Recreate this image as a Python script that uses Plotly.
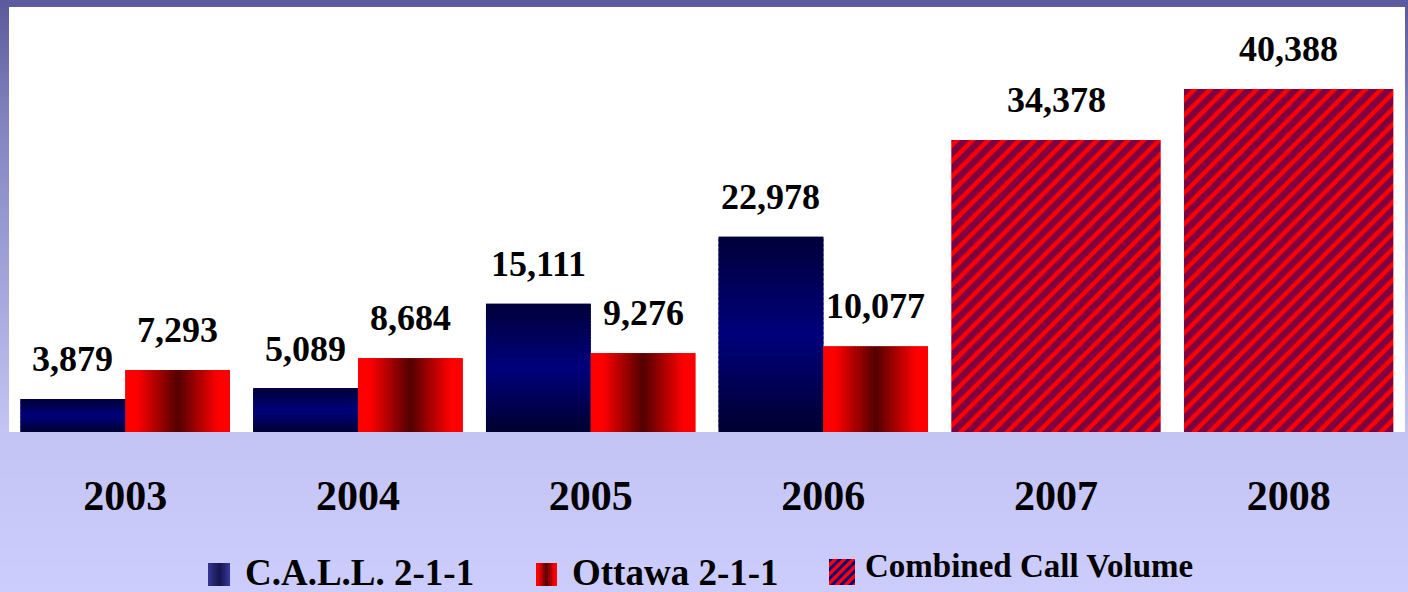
import plotly.graph_objects as go

# ---------------- data ----------------
years = ["2003", "2004", "2005", "2006", "2007", "2008"]
call_years = ["2003", "2004", "2005", "2006"]
call_211 = [3879, 5089, 15111, 22978]
ottawa_years = ["2003", "2004", "2005", "2006"]
ottawa_211 = [7293, 8684, 9276, 10077]
combined_years = ["2007", "2008"]
combined_volume = [34378, 40388]

series_names = ["C.A.L.L. 2-1-1", "Ottawa 2-1-1", "Combined Call Volume"]

# ---------------- geometry / style ----------------
FIG_W, FIG_H = 1408, 592
M_L, M_R, M_T, M_B = 9, 3, 7, 160
PW = FIG_W - M_L - M_R
PH = FIG_H - M_T - M_B
BW = 0.45          # width of a single bar (category units)
FONT = "Liberation Serif"
NAVY = "#000080"
RED = "#ff0000"


def interp(stops, t):
    for (t0, c0), (t1, c1) in zip(stops[:-1], stops[1:]):
        if t <= t1:
            f = 0 if t1 == t0 else (t - t0) / (t1 - t0)
            return tuple(int(round(a + (b - a) * f)) for a, b in zip(c0, c1))
    return stops[-1][1]


def rgb(c):
    return "rgb(%d,%d,%d)" % c


call_stops = [(0.0, (0, 0, 48)), (0.5, (0, 0, 124)), (1.0, (0, 0, 58))]
ott_stops = [(0.0, (255, 0, 0)), (0.12, (252, 0, 0)), (0.5, (82, 0, 0)),
             (0.88, (252, 0, 0)), (1.0, (255, 0, 0))]
call_sw_stops = [(0.0, (54, 54, 152)), (0.5, (20, 20, 74)), (1.0, (54, 54, 158))]
bg_stops = [(0, (90, 90, 156)), (120, (130, 130, 192)), (432, (196, 196, 244)),
            (592, (205, 205, 253))]

xi = {y: i for i, y in enumerate(years)}
call_x = [xi[y] - BW / 2 for y in call_years]
ott_x = [xi[y] + BW / 2 for y in ottawa_years]
comb_x = [xi[y] for y in combined_years]

fig = go.Figure()

# base bars
fig.add_trace(go.Bar(x=call_x, y=call_211, width=BW, name=series_names[0],
                     marker=dict(color="#20207a", line=dict(width=0)), hoverinfo="skip"))
fig.add_trace(go.Bar(x=ott_x, y=ottawa_211, width=BW, name=series_names[1],
                     marker=dict(color="#d00000", line=dict(width=0)), hoverinfo="skip"))
fig.add_trace(go.Bar(x=comb_x, y=combined_volume, width=2 * BW, name=series_names[2],
                     marker=dict(color=RED, line=dict(width=0),
                                 pattern=dict(shape="/", bgcolor=RED, fgcolor=NAVY,
                                              size=11, solidity=0.6)),
                     hoverinfo="skip"))

# vertical gradient on C.A.L.L. bars (stacked slices)
N = 40
for k in range(N):
    ext = 1.0 if k == N - 1 else 1.6
    fig.add_trace(go.Bar(
        x=call_x, base=[v * k / N for v in call_211],
        y=[v / N * ext for v in call_211], width=BW,
        marker=dict(color=rgb(interp(call_stops, (k + 0.5) / N)), line=dict(width=0)),
        showlegend=False, hoverinfo="skip"))

# horizontal gradient on Ottawa bars (side by side slices)
for k in range(N):
    ext = 1.0 if k == N - 1 else 1.6
    fig.add_trace(go.Bar(
        x=ott_x, y=ottawa_211, offset=-BW / 2 + k * BW / N, width=BW / N * ext,
        marker=dict(color=rgb(interp(ott_stops, (k + 0.5) / N)), line=dict(width=0)),
        showlegend=False, hoverinfo="skip"))

# value labels
annotations = []
for xs, vals in ((call_x, call_211), (ott_x, ottawa_211), (comb_x, combined_volume)):
    for x, v in zip(xs, vals):
        annotations.append(dict(x=x, y=v, xref="x", yref="y", text="<b>%s</b>" % f"{v:,}",
                                showarrow=False, yanchor="bottom", yshift=18,
                                font=dict(family=FONT, size=36, color="black")))


# pixel -> paper
def xp(px):
    return (px - M_L) / PW


def yp(py):
    return (M_T + PH - py) / PH


shapes = []
step = 4
for py in range(0, FIG_H, step):
    shapes.append(dict(type="rect", xref="paper", yref="paper", layer="below",
                       x0=xp(0), x1=xp(FIG_W), y0=yp(py + step), y1=yp(py),
                       fillcolor=rgb(interp(bg_stops, py + step / 2)), line=dict(width=0)))
shapes.append(dict(type="rect", xref="paper", yref="paper", layer="below",
                   x0=0, x1=1, y0=0, y1=1, fillcolor="white", line=dict(width=0)))


# ---------------- custom legend ----------------
def grad_swatch(x0, x1, y0, y1, stops, n=12):
    out = []
    w = (x1 - x0) / n
    for k in range(n):
        out.append(dict(type="rect", xref="paper", yref="paper", layer="above",
                        x0=xp(x0 + k * w), x1=xp(x0 + (k + 1) * w + (0.6 if k < n - 1 else 0)),
                        y0=yp(y1), y1=yp(y0),
                        fillcolor=rgb(interp(stops, (k + 0.5) / n)), line=dict(width=0)))
    return out


def clip(poly, inside, inter):
    out = []
    for i in range(len(poly)):
        a, b = poly[i - 1], poly[i]
        ia, ib = inside(a), inside(b)
        if ib:
            if not ia:
                out.append(inter(a, b))
            out.append(b)
        elif ia:
            out.append(inter(a, b))
    return out


def clip_box(poly, x0, x1, y0, y1):
    def ix(v):
        return lambda a, b: (v, a[1] + (b[1] - a[1]) * (v - a[0]) / (b[0] - a[0]))

    def iy(v):
        return lambda a, b: (a[0] + (b[0] - a[0]) * (v - a[1]) / (b[1] - a[1]), v)

    poly = clip(poly, lambda p: p[0] >= x0, ix(x0))
    poly = clip(poly, lambda p: p[0] <= x1, ix(x1))
    poly = clip(poly, lambda p: p[1] >= y0, iy(y0))
    poly = clip(poly, lambda p: p[1] <= y1, iy(y1))
    return poly


def stripe_swatch(x0, x1, y0, y1, period=9.0, frac=0.45):
    out = [dict(type="rect", xref="paper", yref="paper", layer="above",
                x0=xp(x0), x1=xp(x1), y0=yp(y1), y1=yp(y0), fillcolor=RED,
                line=dict(width=0))]
    s = max(x1 - x0, y1 - y0)
    c = -s
    while c < 2 * s:
        c0, c1 = c, c + period * frac
        par = [(c0 - s, -s), (c1 - s, -s), (c1 + 2 * s, 2 * s), (c0 + 2 * s, 2 * s)]
        poly = clip_box(par, 0, x1 - x0, 0, y1 - y0)
        if len(poly) >= 3:
            pts = [(xp(x0 + u), yp(y1 - v)) for u, v in poly]
            path = "M" + " L".join("%.6f,%.6f" % p for p in pts) + " Z"
            out.append(dict(type="path", xref="paper", yref="paper", layer="above",
                            path=path, fillcolor=NAVY, line=dict(width=0)))
        c += period
    return out


shapes += grad_swatch(208, 230, 563, 586, call_sw_stops)
shapes += grad_swatch(536, 557, 563, 586, ott_stops)
shapes += stripe_swatch(829, 855, 559, 585)

ASC = 0.891
legend_items = [(series_names[0], 243, 584, 37), (series_names[1], 570, 584, 37),
                (series_names[2], 863, 576, 33)]
for name, px, base, size in legend_items:
    annotations.append(dict(xref="paper", yref="paper", x=xp(px), y=yp(base - ASC * size - 1),
                            xanchor="left", yanchor="top", showarrow=False,
                            text="<b>%s</b>" % name,
                            font=dict(family=FONT, size=size, color="black")))

fig.update_layout(
    width=FIG_W, height=FIG_H,
    margin=dict(l=M_L, r=M_R, t=M_T, b=M_B, pad=0),
    barmode="overlay",
    paper_bgcolor="rgb(200,200,248)",
    plot_bgcolor="rgba(0,0,0,0)",
    shapes=shapes,
    annotations=annotations,
    showlegend=False,
    xaxis=dict(range=[-0.5, len(years) - 0.5], tickvals=list(range(len(years))),
               ticktext=["<b>%s</b>" % y for y in years], showgrid=False, zeroline=False,
               showline=False, ticks="", ticklabelstandoff=35,
               tickfont=dict(family=FONT, size=42, color="black")),
    yaxis=dict(range=[0, 50040], visible=False, showgrid=False, zeroline=False),
)

fig.write_html("out.html", config={"displayModeBar": False},
               post_script="document.body.style.margin='0px';"
                           "document.body.style.overflow='hidden';")
